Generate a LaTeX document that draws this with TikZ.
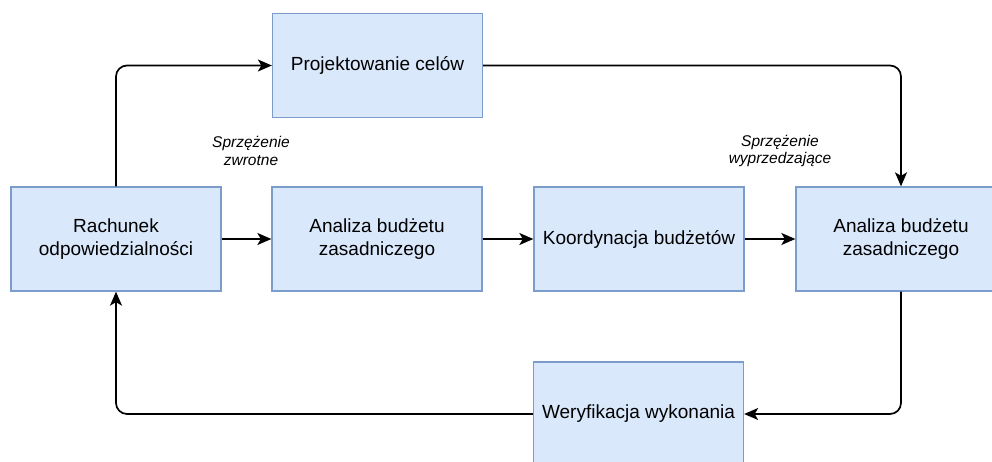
\documentclass[tikz,border=0pt]{standalone}
\usepackage{fontspec}
\setmainfont{Liberation Sans}
\usetikzlibrary{arrows.meta}
\definecolor{boxfill}{HTML}{DAE8FC}
\definecolor{boxline}{HTML}{7C9CCB}
\tikzset{
  stage/.style={rectangle, draw=boxline, fill=boxfill, line width=1.3pt,
    minimum width=210pt, minimum height=104pt, align=center,
    font=\fontsize{19}{22.5}\selectfont, inner sep=2pt},
  flow/.style={line width=1.7pt, -{Stealth[length=14pt,width=12pt,inset=3.5pt]},
    rounded corners=11pt},
  note/.style={align=center, font=\itshape\fontsize{15.5}{17.5}\selectfont}
}
\begin{document}
\begin{tikzpicture}[x=1pt,y=-1pt]
  \useasboundingbox (0,0) rectangle (992,462);
  \fill[white] (0,0) rectangle (992,462);
  \clip (0,0) rectangle (992,462);

  % process stages
  \node[stage] (proj)  at (377.5,65.5) {Projektowanie celów};
  \node[stage] (rach)  at (116,239)  {Rachunek\\odpowiedzialności};
  \node[stage] (an1)   at (377,239)  {Analiza budżetu\\zasadniczego};
  \node[stage] (koord) at (639,239)  {Koordynacja budżetów};
  \node[stage] (an2)   at (901,239)  {Analiza budżetu\\zasadniczego};
  \node[stage] (weryf) at (638.5,414) {Weryfikacja wykonania};

  % loop labels
  \node[note] (fb) at (251,151) {Sprzężenie\\zwrotne};
  \node[note] (ff) at (780,151) {Sprzężenie\\wyprzedzające};

  % main chain
  \draw[flow] (rach) -- (an1);
  \draw[flow] (an1) -- (koord);
  \draw[flow] (koord) -- (an2);

  % feed-forward loop over the top
  \draw[flow] (rach.north) |- (proj.west);
  \draw[flow] (proj.east) -| (an2.north);

  % feedback loop along the bottom
  \draw[flow] (an2.south) |- (weryf.east);
  \draw[flow] (weryf.west) -| (rach.south);
\end{tikzpicture}
\end{document}
